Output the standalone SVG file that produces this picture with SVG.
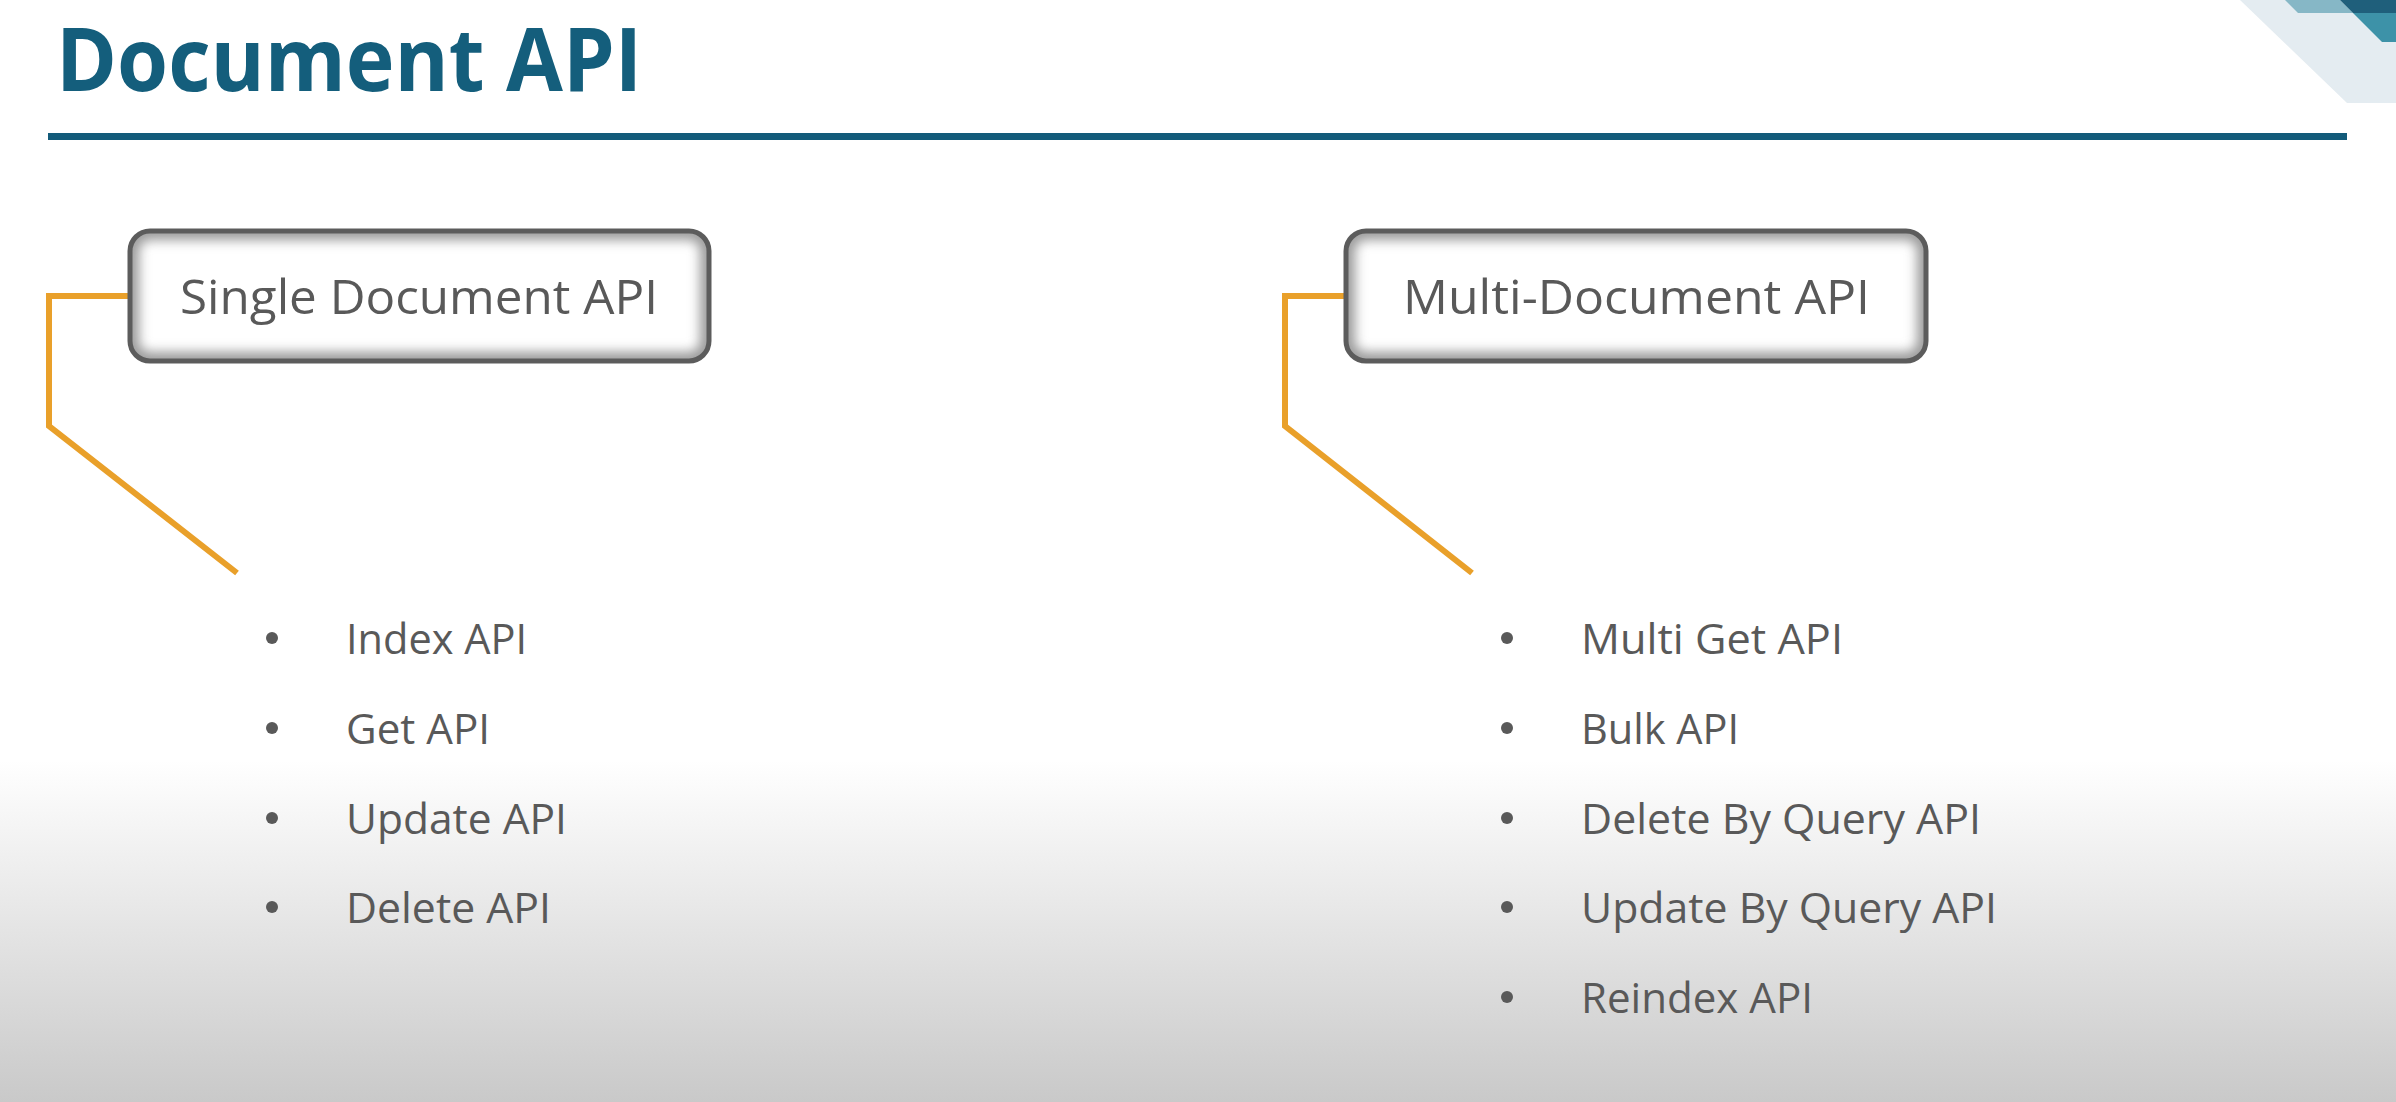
<svg xmlns="http://www.w3.org/2000/svg" width="2396" height="1102" viewBox="0 0 2396 1102">
<style>
.title{font-family:"Open Sans","Liberation Sans",sans-serif;font-weight:700;font-size:88px;fill:#145E7C}
.boxt{font-family:"Open Sans","Liberation Sans",sans-serif;font-size:48px;fill:#595959}
.item{font-family:"Open Sans","Liberation Sans",sans-serif;font-size:42px;fill:#595959}
.dot{fill:#595959}
.conn{fill:none;stroke:#E9A02A;stroke-width:6;stroke-linejoin:miter}
.frame{fill:none;stroke:#5c5c5c;stroke-width:5}
.glow{fill:none;stroke:#9a9a9a;stroke-width:18}
</style>
<defs>
<linearGradient id="bg" x1="0" y1="0" x2="0" y2="1">
<stop offset="0" stop-color="#ffffff"/>
<stop offset="0.69" stop-color="#ffffff"/>
<stop offset="1" stop-color="#c9c9c9"/>
</linearGradient>
<filter id="soft" x="-10%" y="-20%" width="120%" height="140%"><feGaussianBlur stdDeviation="6"/></filter>
<clipPath id="c1"><rect x="130" y="231" width="579" height="130" rx="20"/></clipPath>
<clipPath id="c2"><rect x="1346" y="231" width="580" height="130" rx="20"/></clipPath>
</defs>
<rect x="0" y="0" width="2396" height="1102" fill="url(#bg)"/>
<g id="corner-decoration">
<polygon points="2240,0 2396,0 2396,103 2347,103" fill="#e4ecf1"/>
<polygon points="2285,0 2340,0 2353,13 2298,13" fill="#86b7c6"/>
<polygon points="2340,0 2396,0 2396,13 2353,13" fill="#1f5f7b"/>
<polygon points="2353,13 2396,13 2396,42 2382,42" fill="#3d92a8"/>
</g>
<g id="title">
<text class="title" x="56" y="91" textLength="586" lengthAdjust="spacingAndGlyphs">Document API</text>
<rect x="48" y="133" width="2299" height="7" fill="#135B7A"/>
</g>
<g id="connectors">
<polyline class="conn" points="130,296 49,296 49,426 237,573"/>
<polyline class="conn" points="1346,296 1285,296 1285,426 1472,573"/>
</g>
<g id="single-document-api">
<rect x="130" y="231" width="579" height="130" rx="20" fill="#ffffff"/>
<g clip-path="url(#c1)"><rect class="glow" x="130" y="231" width="579" height="130" rx="20" filter="url(#soft)"/></g>
<rect class="frame" x="130" y="231" width="579" height="130" rx="20"/>
<text class="boxt" x="180" y="314" textLength="478" lengthAdjust="spacingAndGlyphs">Single Document API</text>
</g>
<g id="multi-document-api">
<rect x="1346" y="231" width="580" height="130" rx="20" fill="#ffffff"/>
<g clip-path="url(#c2)"><rect class="glow" x="1346" y="231" width="580" height="130" rx="20" filter="url(#soft)"/></g>
<rect class="frame" x="1346" y="231" width="580" height="130" rx="20"/>
<text class="boxt" x="1403" y="314" textLength="467" lengthAdjust="spacingAndGlyphs">Multi-Document API</text>
</g>
<g id="single-list">
<circle class="dot" cx="272" cy="638" r="6"/>
<text class="item" x="346" y="654" textLength="181" lengthAdjust="spacingAndGlyphs">Index API</text>
<circle class="dot" cx="272" cy="728" r="6"/>
<text class="item" x="346" y="744" textLength="144" lengthAdjust="spacingAndGlyphs">Get API</text>
<circle class="dot" cx="272" cy="818" r="6"/>
<text class="item" x="346" y="834" textLength="221" lengthAdjust="spacingAndGlyphs">Update API</text>
<circle class="dot" cx="272" cy="907" r="6"/>
<text class="item" x="346" y="923" textLength="205" lengthAdjust="spacingAndGlyphs">Delete API</text>
</g>
<g id="multi-list">
<circle class="dot" cx="1507" cy="638" r="6"/>
<text class="item" x="1581" y="654" textLength="262" lengthAdjust="spacingAndGlyphs">Multi Get API</text>
<circle class="dot" cx="1507" cy="728" r="6"/>
<text class="item" x="1581" y="744" textLength="158" lengthAdjust="spacingAndGlyphs">Bulk API</text>
<circle class="dot" cx="1507" cy="818" r="6"/>
<text class="item" x="1581" y="834" textLength="400" lengthAdjust="spacingAndGlyphs">Delete By Query API</text>
<circle class="dot" cx="1507" cy="907" r="6"/>
<text class="item" x="1581" y="923" textLength="416" lengthAdjust="spacingAndGlyphs">Update By Query API</text>
<circle class="dot" cx="1507" cy="997" r="6"/>
<text class="item" x="1581" y="1013" textLength="232" lengthAdjust="spacingAndGlyphs">Reindex API</text>
</g>
</svg>
